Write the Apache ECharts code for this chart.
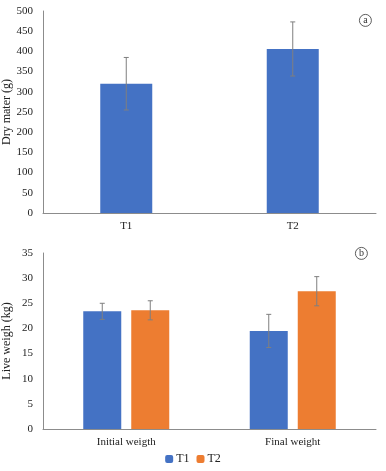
<!DOCTYPE html>
<html>
<head>
<meta charset="utf-8">
<script src="https://cdn.jsdelivr.net/npm/echarts@6/dist/echarts.min.js"></script>
<style>
    html, body { margin: 0; padding: 0; background: #fff; }
    #container { width: 386px; height: 471px; }
</style>
</head>
<body>
<div id="container"></div>
<script>
    // 图 a：干物质
    let dryCategories = ['T1', 'T2'];
    let dryValues = [320, 406];
    let dryErrors = [65, 67];

    // 图 b：活重
    let liveCategories = ['Initial weigth', 'Final weight'];
    let liveT1 = [23.4, 19.5];
    let liveT2 = [23.6, 27.4];
    let liveT1Err = [1.6, 3.3];
    let liveT2Err = [1.9, 2.9];

    let blue = '#4472C4';
    let orange = '#ED7D31';
    let errColor = '#7f7f7f';
    let fontFamily = '"Liberation Serif", "DejaVu Serif", serif';
    let liveBarWidth = 38;
    let liveBarGap = 10;

    // 误差线
    function errorRender(values, errors, offset) {
        return function (params, api) {
            let i = params.dataIndex;
            let x = api.coord([i, values[i]])[0] + offset;
            let hi = api.coord([i, values[i] + errors[i]])[1];
            let lo = api.coord([i, values[i] - errors[i]])[1];
            let cap = 2.5;
            let style = { stroke: errColor, lineWidth: 1 };
            return {
                type: 'group',
                children: [
                    { type: 'line', shape: { x1: x, y1: hi, x2: x, y2: lo }, style: style },
                    { type: 'line', shape: { x1: x - cap, y1: hi, x2: x + cap, y2: hi }, style: style },
                    { type: 'line', shape: { x1: x - cap, y1: lo, x2: x + cap, y2: lo }, style: style }
                ]
            };
        };
    }

    function circleLabel(text, cx, cy) {
        return {
            type: 'group',
            left: cx - 7,
            top: cy - 7,
            children: [
                { type: 'circle', shape: { cx: 7, cy: 7, r: 6 }, style: { fill: '#fff', stroke: '#333', lineWidth: 0.8 } },
                { type: 'text', x: 7, y: 7, style: { text: text, fill: '#333', font: '10px ' + fontFamily, align: 'center', verticalAlign: 'middle' } }
            ]
        };
    }

    let axisLabel = { color: '#222', fontFamily: fontFamily, fontSize: 11 };
    let axisLine = { show: true, lineStyle: { color: '#8c8c8c', width: 1 } };
    let nameStyle = { color: '#222', fontFamily: fontFamily, fontSize: 12 };

    let myChart = echarts.init(document.getElementById('container'));
    let option = {
        animation: false,
        grid: [
            { left: 43, right: 10, top: 11, height: 202, containLabel: false, outerBoundsMode: 'none' },
            { left: 43, right: 10, top: 253, height: 176, containLabel: false, outerBoundsMode: 'none' }
        ],
        legend: {
            bottom: 1,
            left: 'center',
            itemWidth: 8,
            itemHeight: 8,
            itemGap: 7,
            data: ['T1', 'T2'],
            textStyle: { color: '#222', fontFamily: fontFamily, fontSize: 12, padding: [0, 0, 0, -2] }
        },
        xAxis: [{
            gridIndex: 0,
            type: 'category',
            data: dryCategories,
            axisLine: axisLine,
            axisTick: { show: false },
            axisLabel: Object.assign({ margin: 8 }, axisLabel)
        }, {
            gridIndex: 1,
            type: 'category',
            data: liveCategories,
            axisLine: axisLine,
            axisTick: { show: false },
            axisLabel: Object.assign({ margin: 8 }, axisLabel)
        }],
        yAxis: [{
            gridIndex: 0,
            type: 'value',
            min: 0,
            max: 500,
            interval: 50,
            name: 'Dry mater (g)',
            nameLocation: 'middle',
            nameGap: 30,
            nameMoveOverlap: false,
            nameTextStyle: nameStyle,
            axisLine: axisLine,
            axisTick: { show: false },
            splitLine: { show: false },
            axisLabel: Object.assign({ margin: 10 }, axisLabel)
        }, {
            gridIndex: 1,
            type: 'value',
            min: 0,
            max: 35,
            interval: 5,
            name: 'Live weigh (kg)',
            nameLocation: 'middle',
            nameGap: 30,
            nameMoveOverlap: false,
            nameTextStyle: nameStyle,
            axisLine: axisLine,
            axisTick: { show: false },
            splitLine: { show: false },
            axisLabel: Object.assign({ margin: 10 }, axisLabel)
        }],
        series: [{
            type: 'bar',
            xAxisIndex: 0,
            yAxisIndex: 0,
            data: dryValues,
            barWidth: 52,
            itemStyle: { color: blue }
        }, {
            type: 'custom',
            xAxisIndex: 0,
            yAxisIndex: 0,
            data: dryValues,
            renderItem: errorRender(dryValues, dryErrors, 0),
            z: 10
        }, {
            name: 'T1',
            type: 'bar',
            xAxisIndex: 1,
            yAxisIndex: 1,
            data: liveT1,
            barWidth: liveBarWidth,
            barGap: (liveBarGap / liveBarWidth * 100) + '%',
            itemStyle: { color: blue }
        }, {
            name: 'T2',
            type: 'bar',
            xAxisIndex: 1,
            yAxisIndex: 1,
            data: liveT2,
            barWidth: liveBarWidth,
            itemStyle: { color: orange }
        }, {
            type: 'custom',
            xAxisIndex: 1,
            yAxisIndex: 1,
            data: liveT1,
            renderItem: errorRender(liveT1, liveT1Err, -(liveBarWidth + liveBarGap) / 2),
            z: 10
        }, {
            type: 'custom',
            xAxisIndex: 1,
            yAxisIndex: 1,
            data: liveT2,
            renderItem: errorRender(liveT2, liveT2Err, (liveBarWidth + liveBarGap) / 2),
            z: 10
        }],
        graphic: [
            circleLabel('a', 366, 21),
            circleLabel('b', 362, 254)
        ]
    };
    myChart.setOption(option, true);
</script>
</body>
</html>
